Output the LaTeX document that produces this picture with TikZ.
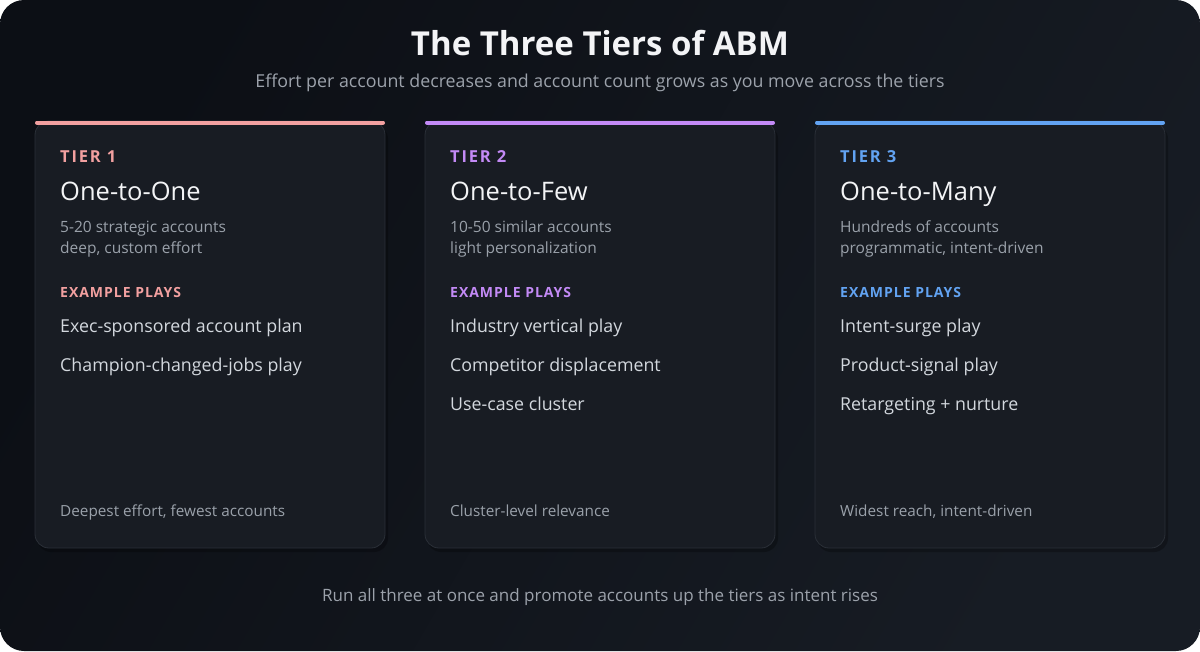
\documentclass[tikz,border=0pt]{standalone}
\usepackage{fontspec}
\setmainfont{Open Sans}
\newfontfamily\spaced[LetterSpace=11]{Open Sans}
\newfontfamily\spacedb[LetterSpace=7]{Open Sans}
\definecolor{bgA}{HTML}{0C0F15}
\definecolor{bgB}{HTML}{171C24}
\definecolor{cardfill}{HTML}{181C23}
\definecolor{cardline}{HTML}{2A2F37}
\definecolor{tpink}{HTML}{F2A0A0}
\definecolor{tpurple}{HTML}{C38AF6}
\definecolor{tblue}{HTML}{62A3F2}
\definecolor{titlec}{HTML}{F3F4F6}
\definecolor{subc}{HTML}{9CA2AB}
\definecolor{descc}{HTML}{9AA1AA}
\definecolor{playc}{HTML}{D3D8DE}
\tikzset{
  x=1pt, y=-1pt,
  card/.style={fill=cardfill, draw=cardline, line width=0.8pt, rounded corners=14pt},
  cardshadow/.style={fill=black, opacity=0.25, rounded corners=14pt},
  bar/.style={line width=4pt, line cap=round},
  tierlbl/.style={anchor=base west, inner sep=0pt, font=\spaced\fontsize{16.5}{19}\selectfont\bfseries},
  cardtitle/.style={anchor=base west, inner sep=0pt, text=titlec, font=\fontsize{25.5}{30}\selectfont},
  desc/.style={anchor=base west, inner sep=0pt, text=descc, font=\fontsize{15.5}{18}\selectfont},
  playhdr/.style={anchor=base west, inner sep=0pt, font=\spacedb\fontsize{14}{17}\selectfont\bfseries},
  play/.style={anchor=base west, inner sep=0pt, text=playc, font=\fontsize{17.8}{21}\selectfont},
  foot/.style={anchor=base west, inner sep=0pt, text=descc, font=\fontsize{15.3}{18}\selectfont},
  centertxt/.style={anchor=base, inner sep=0pt, text=subc},
}
\begin{document}
\begin{tikzpicture}
\useasboundingbox (0,0) rectangle (1200,651);
\fill[white] (0,0) rectangle (1200,651);
\shade[rounded corners=24pt, shading=axis, left color=bgA, right color=bgB, shading angle=60] (0,0) rectangle (1200,651);

\node[anchor=base, inner sep=0pt, text=titlec, font=\fontsize{33}{38}\selectfont\bfseries] (title) at (600,55) {The Three Tiers of ABM};
\node[centertxt, font=\fontsize{17.8}{21}\selectfont] (subtitle) at (600,87) {Effort per account decreases and account count grows as you move across the tiers};

% card 1
\fill[cardshadow] (37,125) rectangle (388,552);
\draw[card] (35,121) rectangle (385,548);
\draw[bar, tpink] (37,122.5) -- (383,122.5);
\node[tierlbl, text=tpink] (t1) at (60,162) {TIER 1};
\node[cardtitle] (n1) at (60,200) {One-to-One};
\node[desc] (d1a) at (60,232) {5-20 strategic accounts};
\node[desc] (d1b) at (60,253) {deep, custom effort};
\node[playhdr, text=tpink] (h1) at (60,297) {EXAMPLE PLAYS};
\node[play] (p1a) at (60,332) {Exec-sponsored account plan};
\node[play] (p1b) at (60,371) {Champion-changed-jobs play};
\node[foot] (f1) at (60,516) {Deepest effort, fewest accounts};

% card 2
\fill[cardshadow] (427,125) rectangle (778,552);
\draw[card] (425,121) rectangle (775,548);
\draw[bar, tpurple] (427,122.5) -- (773,122.5);
\node[tierlbl, text=tpurple] (t2) at (450,162) {TIER 2};
\node[cardtitle] (n2) at (450,200) {One-to-Few};
\node[desc] (d2a) at (450,232) {10-50 similar accounts};
\node[desc] (d2b) at (450,253) {light personalization};
\node[playhdr, text=tpurple] (h2) at (450,297) {EXAMPLE PLAYS};
\node[play] (p2a) at (450,332) {Industry vertical play};
\node[play] (p2b) at (450,371) {Competitor displacement};
\node[play] (p2c) at (450,410) {Use-case cluster};
\node[foot] (f2) at (450,516) {Cluster-level relevance};

% card 3
\fill[cardshadow] (817,125) rectangle (1168,552);
\draw[card] (815,121) rectangle (1165,548);
\draw[bar, tblue] (817,122.5) -- (1163,122.5);
\node[tierlbl, text=tblue] (t3) at (840,162) {TIER 3};
\node[cardtitle] (n3) at (840,200) {One-to-Many};
\node[desc] (d3a) at (840,232) {Hundreds of accounts};
\node[desc] (d3b) at (840,253) {programmatic, intent-driven};
\node[playhdr, text=tblue] (h3) at (840,297) {EXAMPLE PLAYS};
\node[play] (p3a) at (840,332) {Intent-surge play};
\node[play] (p3b) at (840,371) {Product-signal play};
\node[play] (p3c) at (840,410) {Retargeting + nurture};
\node[foot] (f3) at (840,516) {Widest reach, intent-driven};

\node[centertxt, font=\fontsize{17}{20}\selectfont] (bottom) at (600,601) {Run all three at once and promote accounts up the tiers as intent rises};
\end{tikzpicture}
\end{document}
